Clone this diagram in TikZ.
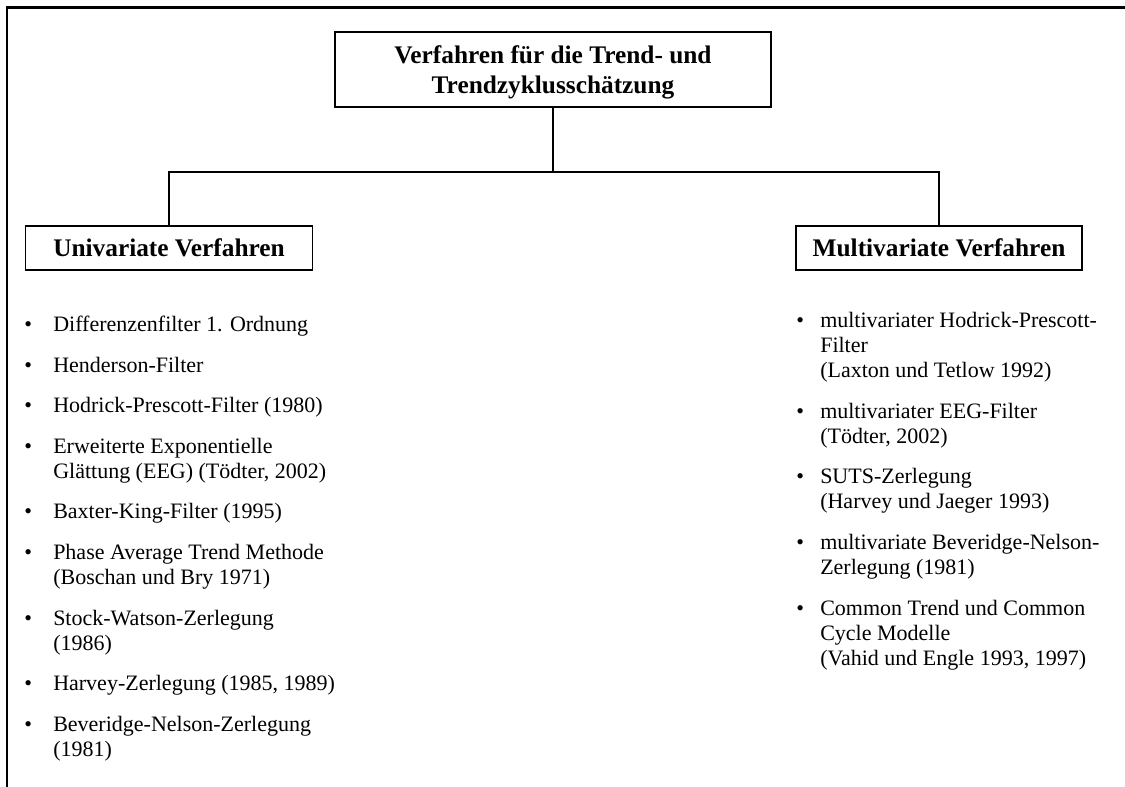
\documentclass[tikz,border=0pt]{standalone}
\usepackage{fontspec}
\setmainfont{Liberation Serif}
\newcommand\lbul[1]{\begin{tabular}[t]{@{}l@{}l@{}}\makebox[21.75pt][l]{•}&#1\end{tabular}}
\newcommand\rbul[1]{\begin{tabular}[t]{@{}l@{}l@{}}\makebox[18pt][l]{•}&#1\end{tabular}}
\tikzset{
  frameline/.style={line width=1.6pt, line cap=rect},
  headbox/.style={draw, line width=0.8pt, inner sep=2pt,
    font=\fontsize{19pt}{22.5pt}\selectfont\bfseries},
  conn/.style={line width=1pt},
  listitem/.style={anchor=base west, inner sep=0pt,
    font=\fontsize{16.5pt}{18.75pt}\selectfont},
}
\begin{document}
\begin{tikzpicture}[x=0.75pt,y=-0.75pt]
\useasboundingbox (0,0) rectangle (1125,787);
% frame
\coordinate (fbl) at (7,787);
\coordinate (ftl) at (7,7.5);
\coordinate (ftr) at (1125,7.5);
\draw[frameline] (fbl) -- (ftl) -- (ftr);
% boxes
\node[headbox, minimum width=327pt, minimum height=56.25pt,
      text height=16pt, text depth=24.25pt] (top) at (553,69.5)
  {\begin{tabular}[t]{@{}c@{}}Verfahren für die Trend- und\\Trendzyklusschätzung\end{tabular}};
\node[headbox, minimum width=215.25pt, minimum height=33pt] (uni) at (169,248) {Univariate Verfahren};
\node[headbox, minimum width=214.5pt, minimum height=33pt] (multi) at (939,248) {Multivariate Verfahren};
% connectors
\coordinate (hub) at (553,172);
\draw[conn] (top.south) -- (hub);
\draw[conn] (uni.north) |- (hub) -| (multi.north);
% left list
\node[listitem] (l1) at (24,332) {\lbul{Differenzenfilter 1. Ordnung}};
\node[listitem] (l2) at (24,372.5) {\lbul{Henderson-Filter}};
\node[listitem] (l3) at (24,413) {\lbul{Hodrick-Prescott-Filter (1980)}};
\node[listitem] (l4) at (24,453.5) {\lbul{Erweiterte Exponentielle\\&Glättung (EEG) (Tödter, 2002)}};
\node[listitem] (l5) at (24,519) {\lbul{Baxter-King-Filter (1995)}};
\node[listitem] (l6) at (24,559.5) {\lbul{Phase Average Trend Methode\\&(Boschan und Bry 1971)}};
\node[listitem] (l7) at (24,625) {\lbul{Stock-Watson-Zerlegung\\&(1986)}};
\node[listitem] (l8) at (24,690.5) {\lbul{Harvey-Zerlegung (1985, 1989)}};
\node[listitem] (l9) at (24,731) {\lbul{Beveridge-Nelson-Zerlegung\\&(1981)}};
% right list
\node[listitem] (r1) at (796,328) {\rbul{multivariater Hodrick-Prescott-\\&Filter\\&(Laxton und Tetlow 1992)}};
\node[listitem] (r2) at (796,418.5) {\rbul{multivariater EEG-Filter\\&(Tödter, 2002)}};
\node[listitem] (r3) at (796,484) {\rbul{SUTS-Zerlegung\\&(Harvey und Jaeger 1993)}};
\node[listitem] (r4) at (796,549.5) {\rbul{multivariate Beveridge-Nelson-\\&Zerlegung (1981)}};
\node[listitem] (r5) at (796,615) {\rbul{Common Trend und Common\\&Cycle Modelle\\&(Vahid und Engle 1993, 1997)}};
\end{tikzpicture}
\end{document}
